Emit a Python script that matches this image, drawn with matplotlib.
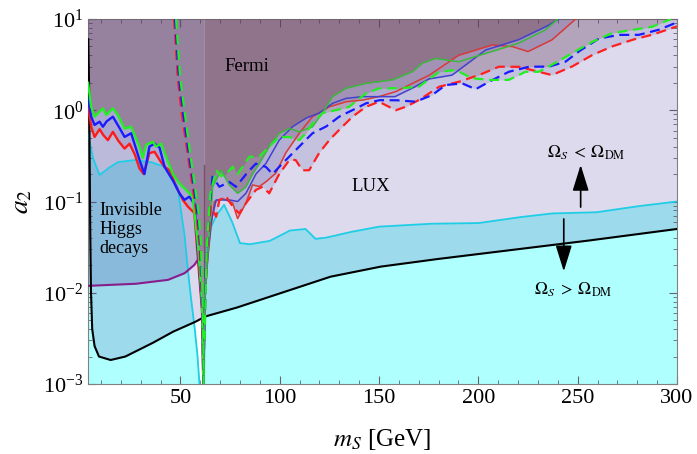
import numpy as np
import matplotlib
matplotlib.use("Agg")
import matplotlib.pyplot as plt

plt.rcParams['font.family'] = ['Liberation Serif', 'DejaVu Serif']
plt.rcParams['mathtext.fontset'] = 'stix'

# ---- data (m_S in GeV, a_2) ----
black_m = [3.6, 4.0, 4.3, 4.6, 5.0, 5.6, 6.8, 9.0, 14.8, 22.3, 35.8, 45.8, 57.5, 62.6, 77.7, 102.8, 125.6, 150.6, 175.8, 250, 300]
black_a = [6, 2, 0.3, 0.05, 0.01, 0.004, 0.0026, 0.002, 0.00183, 0.002, 0.0028, 0.0037, 0.0048, 0.0055, 0.0068, 0.0103, 0.015, 0.0193, 0.0229, 0.036, 0.05]

cyanL_m = [3.5, 6, 9.3, 13.5, 18.5, 26.9, 35.3, 42, 45.3, 48.6, 50.4, 52, 53.5, 55, 57, 58.5, 59.6]
cyanL_a = [0.55, 0.3, 0.195, 0.23, 0.27, 0.285, 0.27, 0.24, 0.187, 0.145, 0.075, 0.045, 0.02, 0.01, 0.0045, 0.0022, 0.001]
cyanR_m = [61.6, 62.0, 62.6, 63.5, 65, 68, 72, 76, 80, 85, 95, 100, 105, 113, 118, 123, 135, 150, 175, 200, 220, 237, 259, 279, 300]
cyanR_a = [0.001, 0.003, 0.012, 0.03, 0.05, 0.07, 0.092, 0.06, 0.035, 0.034, 0.037, 0.042, 0.048, 0.05, 0.039, 0.04, 0.046, 0.053, 0.057, 0.058, 0.067, 0.074, 0.076, 0.088, 0.1]

purple_m = [3.5, 27, 43.6, 52, 57, 59.8]
purple_a = [0.0119, 0.0125, 0.0138, 0.0163, 0.0201, 0.025]
# the invisible-decay region runs on up to the dip at m_h/2
inv_m = purple_m + [61.7]
inv_a = purple_a + [0.03]

red_m = [3.5, 5.1, 6.8, 9.3, 11, 13.5, 16, 18.5, 21.9, 24.4, 27, 29.4, 31.5, 34.4, 37, 39.5, 42, 44.5, 47.9, 51.2, 53.7, 57, 58.7, 60.9, 61.6,
         62.0, 63.7, 65.4, 67.1, 71.3, 76.3, 78.8, 83, 86.3, 89.7, 93, 98, 103, 109.8, 116.5, 124.9, 133.3, 141.6, 150, 158.4, 166.7, 175,
         190, 207, 217, 225, 237, 249]
red_a = [1.1, 0.66, 0.51, 0.62, 0.54, 0.47, 0.58, 0.47, 0.38, 0.43, 0.33, 0.23, 0.20, 0.34, 0.35, 0.285, 0.24, 0.22, 0.145, 0.104, 0.088, 0.075, 0.025, 0.0064, 0.0008,
         0.0064, 0.023, 0.053, 0.1, 0.108, 0.096, 0.065, 0.096, 0.152, 0.146, 0.164, 0.204, 0.34, 0.56, 0.85, 1.09, 1.24, 1.29, 1.41, 1.6, 1.97, 2.4,
         4.0, 5.2, 5.0, 4.4, 5.9, 10]
blue_m = [3.5, 5.1, 6.8, 9.3, 11, 12.7, 16, 18.5, 21.9, 25.2, 29.4, 31.9, 34.4, 37, 39.5, 42, 46.1, 49.5, 52, 54.5, 57, 58.8, 60.9, 61.65,
          62.1, 63.8, 65.5, 68, 74.6, 78.8, 83, 88, 93, 99.7, 106.4, 113.2, 119.8, 126.5, 133.3, 141.6, 150, 158, 166.7, 175, 186.8, 203.6,
          220, 233.8, 240.5]
blue_a = [1.35, 0.85, 0.69, 0.75, 0.66, 0.75, 0.85, 0.69, 0.51, 0.56, 0.285, 0.20, 0.40, 0.43, 0.39, 0.24, 0.172, 0.123, 0.104, 0.113, 0.095, 0.03, 0.007, 0.0008,
          0.007, 0.026, 0.06, 0.104, 0.104, 0.1, 0.123, 0.2, 0.26, 0.47, 0.66, 0.82, 0.93, 1.19, 1.35, 1.41, 1.41, 1.41, 1.74, 2.2, 2.43, 4.57,
          5.9, 8.2, 10]
green_m = [3.5, 5.1, 6.8, 11, 12.7, 16, 18.5, 21.9, 25.2, 29.4, 31, 32.8, 36.1, 37.8, 40.3, 42.8, 46.1, 49.5, 52.9, 56.2, 58.8, 60.9, 61.7,
           62.2, 63.9, 65.5, 66.2, 70.5, 74.6, 78.8, 83, 86.3, 89.7, 94.7, 99.7, 104.8, 109.8, 116.5, 121.5, 126.5, 133.3, 143.3, 156.7,
           166.7, 172, 178.5, 190, 203.6, 220, 233.8, 240]
green_a = [2.0, 1.09, 0.85, 1.05, 0.89, 1.05, 0.89, 0.63, 0.66, 0.40, 0.30, 0.42, 0.45, 0.40, 0.43, 0.31, 0.20, 0.158, 0.134, 0.113, 0.035, 0.008, 0.0008,
           0.008, 0.03, 0.08, 0.145, 0.22, 0.152, 0.123, 0.145, 0.20, 0.26, 0.40, 0.56, 0.63, 0.58, 0.66, 0.93, 1.41, 1.74, 1.97, 2.15,
           2.64, 3.3, 3.7, 3.4, 4.2, 5.4, 7.6, 10]

# dashed curves: left branch (steep, above the dip) and right branch
dashL_a = [10, 2.33, 1.0, 0.43, 0.187, 0.081, 0.035, 0.0099, 0.003, 0.0008]
redL_m = [46.8, 48.6, 50.4, 52.9, 55.4, 57.9, 59.5, 60.7, 61.3, 61.65]
blueL_m = [47.3, 49.2, 51.2, 53.5, 56.0, 58.4, 60.0, 60.9, 61.4, 61.7]
greenL_m = [47.8, 49.8, 52.0, 54.2, 56.6, 59.0, 60.3, 61.1, 61.5, 61.75]

redR_m = [62.0, 62.5, 63.5, 65.4, 68, 69.6, 73, 76.3, 79.6, 83, 88, 91.4, 94.7, 99.7, 104.8, 108, 111.4, 114.8, 119.8, 124.9, 129.9, 136.6,
          143.3, 150, 158.4, 163.4, 170, 180.2, 190.2, 200.3, 210.3, 220.4, 227, 237, 247, 257, 267, 277.3, 287.3, 300]
redR_a = [0.003, 0.01, 0.03, 0.088, 0.068, 0.104, 0.113, 0.088, 0.074, 0.096, 0.134, 0.145, 0.123, 0.20, 0.285, 0.285, 0.22, 0.22, 0.34, 0.47, 0.61, 0.85,
          1.09, 1.24, 1.0, 1.09, 1.29, 1.81, 2.05, 2.43, 3.0, 3.0, 2.76, 2.43, 3.0, 4.0, 4.98, 5.9, 6.7, 8.3]
blueR_m = [62.1, 62.9, 64.6, 66.2, 69.6, 74.6, 78, 80.5, 83, 88, 93, 96.4, 99.7, 104.8, 109.8, 116.5, 123.2, 129.9, 136.6, 143.3, 150, 158.4,
           168.4, 176.8, 183.5, 191.9, 198.6, 205.3, 215.3, 225.4, 235.4, 243.8, 250.5, 260.6, 270.6, 280.7, 290.7, 300]
blueR_a = [0.003, 0.023, 0.081, 0.187, 0.145, 0.164, 0.145, 0.17, 0.2, 0.26, 0.24, 0.2, 0.24, 0.31, 0.40, 0.56, 0.66, 0.85, 1.0, 1.19, 1.29, 1.29,
           1.24, 1.47, 1.89, 1.97, 1.70, 2.05, 2.64, 3.0, 3.0, 3.4, 4.4, 6.1, 6.7, 6.7, 7.6, 9.2]
greenR_m = [62.2, 63.2, 65, 68, 70.5, 73, 76.3, 78.8, 81.3, 84.7, 89.7, 94.7, 99.7, 104.8, 109.8, 113.2, 116.5, 121.5, 128.2, 134.9, 143.3,
            150, 160, 170, 180.2, 188.5, 196.9, 205.3, 215.3, 223.7, 230.4, 238.8, 247, 257.2, 267.2, 277.3, 287.3, 297]
greenR_a = [0.003, 0.03, 0.12, 0.22, 0.19, 0.2, 0.24, 0.2, 0.24, 0.31, 0.31, 0.40, 0.51, 0.51, 0.47, 0.56, 0.72, 0.93, 1.0, 1.09, 1.53,
            1.74, 1.74, 1.81, 2.64, 2.76, 2.24, 2.15, 2.15, 2.64, 2.64, 3.3, 4.2, 5.6, 7.0, 7.6, 8.2, 10]


def dense(m, a, n=500):
    # fill in between the read points, straight in log(a)
    m = np.asarray(m, float)
    mm = np.union1d(np.linspace(m[0], m[-1], n), m)
    return mm, 10 ** np.interp(mm, m, np.log10(a))


def on_grid(g, m, a):
    return np.interp(g, m, np.log10(a), left=1.2, right=1.2)


C = lambda r, g, b: (r / 255, g / 255, b / 255)
cyan_fill = C(176, 255, 255)
slate = C(71, 60, 155)
inv_col = C(61, 61, 152)
brown1 = C(120, 60, 70)
brown2 = C(110, 55, 55)

fig = plt.figure(figsize=(6.97, 4.54), dpi=100)
ax = fig.add_axes([0.1263, 0.1542, 0.845, 0.8039])
ax.set_yscale('log')
ax.set_xlim(3.5, 300)
ax.set_ylim(1e-3, 10)
ax.set_facecolor('white')

# relic density / direct detection regions
for mm, aa in [(cyanL_m, cyanL_a), (cyanR_m, cyanR_a)]:
    x, y = dense(mm, aa)
    ax.fill_between(x, 1e-4, y, color=cyan_fill, lw=0, zorder=1)
x, y = dense(black_m, black_a)
ax.fill_between(x, y, 10, color=slate, alpha=0.19, lw=0, zorder=2)
x, y = dense(inv_m, inv_a)
ax.fill_between(x, y, 10, color=inv_col, alpha=0.2, lw=0, zorder=3)

# bands between the dashed curves (right of the dip) and between the solid ones
g2 = np.union1d(np.linspace(62.0, 300, 2000), redR_m + blueR_m + greenR_m)
dsh = np.vstack([on_grid(g2, redR_m, redR_a), on_grid(g2, blueR_m, blueR_a), on_grid(g2, greenR_m, greenR_a)])
ax.fill_between(g2, 10 ** dsh.min(0), 10, color=slate, alpha=0.15, lw=0, zorder=4)
ax.fill_between(g2, 10 ** dsh.max(0), 10, color=brown1, alpha=0.23, lw=0, zorder=4)

g = np.union1d(np.linspace(3.5, 300, 3000), red_m + blue_m + green_m)
sol = np.vstack([on_grid(g, red_m, red_a), on_grid(g, blue_m, blue_a), on_grid(g, green_m, green_a)])
ax.fill_between(g, 10 ** sol.min(0), 10, color=slate, alpha=0.15, lw=0, zorder=5)
ax.fill_between(g, 10 ** sol.max(0), 10, color=brown2, alpha=0.33, lw=0, zorder=5)

ax.plot([61.8, 61.8], [0.0025, 0.25], color=C(125, 80, 105), lw=1.0, zorder=6)

# boundary lines
x, y = dense(cyanL_m, cyanL_a)
ax.plot(x, y, color=C(30, 205, 230), lw=1.3, zorder=7)
x, y = dense(cyanR_m, cyanR_a)
ax.plot(x, y, color=C(30, 205, 230), lw=1.3, zorder=7)
x, y = dense(purple_m, purple_a)
ax.plot(x, y, color=C(135, 30, 140), lw=1.5, zorder=7)
x, y = dense(black_m, black_a)
ax.plot(x, y, color='black', lw=1.5, zorder=7)

solid = [(red_m, red_a, '#ff1a1a', '#d83a3a'),
         (blue_m, blue_a, '#1a1aff', '#4242cc'),
         (green_m, green_a, '#22f022', '#3cb83c')]
for mm, aa, c_left, c_right in solid:
    x, y = dense(mm, aa, 1500)
    left = x <= 62.0
    ax.plot(x[left], y[left], color=c_left, lw=1.7, zorder=8)
    ax.plot(x[x >= 61.6], y[x >= 61.6], color=c_right, lw=1.1, zorder=8)

dashed = [(redL_m, redR_m, redR_a, '#ff2020'),
          (blueL_m, blueR_m, blueR_a, '#1a1aff'),
          (greenL_m, greenR_m, greenR_a, '#22ee22')]
for mL, mR, aR, col in dashed:
    x, y = dense(mL, dashL_a)
    ax.plot(x, y, color=col, lw=1.6, ls=(0, (4.5, 2.5)), zorder=9)
    x, y = dense(mR, aR, 1500)
    ax.plot(x, y, color=col, lw=1.6, ls=(0, (4.5, 2.5)), zorder=9)

# labels inside the plot
ax.text(83.7, 3.05, 'Fermi', fontsize=13.5, ha='center', va='center', zorder=10)
ax.text(145.8, 0.145, 'LUX', fontsize=13.5, ha='center', va='center', zorder=10)
ax.text(9.3, 0.049, 'Invisible\nHiggs\ndecays', fontsize=13, ha='left', va='center',
        linespacing=1.15, zorder=10)
ax.text(254.5, 0.34, r'$\Omega_S\;<\;\Omega_{\rm DM}$', fontsize=12.5, ha='center', va='center', zorder=10)
ax.text(248, 0.0107, r'$\Omega_S\;>\;\Omega_{\rm DM}$', fontsize=12.5, ha='center', va='center', zorder=10)
head = '-|>,head_length=1.6,head_width=0.5'
ax.annotate('', xy=(251.5, 0.27), xytext=(251.5, 0.081),
            arrowprops=dict(arrowstyle=head, color='black', lw=1.2), zorder=10)
ax.annotate('', xy=(243, 0.016), xytext=(243, 0.069),
            arrowprops=dict(arrowstyle=head, color='black', lw=1.2), zorder=10)

# axes styling
ax.set_xticks([50, 100, 150, 200, 250, 300])
ax.set_xticks(np.arange(10, 300, 10), minor=True)
ax.tick_params(which='both', direction='in', top=True, right=True, colors='#666666',
               labelcolor='black', labelsize=16)
ax.tick_params(which='major', length=6)
ax.tick_params(which='minor', length=3)
for s in ax.spines.values():
    s.set_color('#808080')
ax.set_xlabel(r'$m_S$ [GeV]', fontsize=18, labelpad=14)
ax.set_ylabel(r'$a_2$', fontsize=20, labelpad=6)

fig.savefig('out.png', dpi=100)
